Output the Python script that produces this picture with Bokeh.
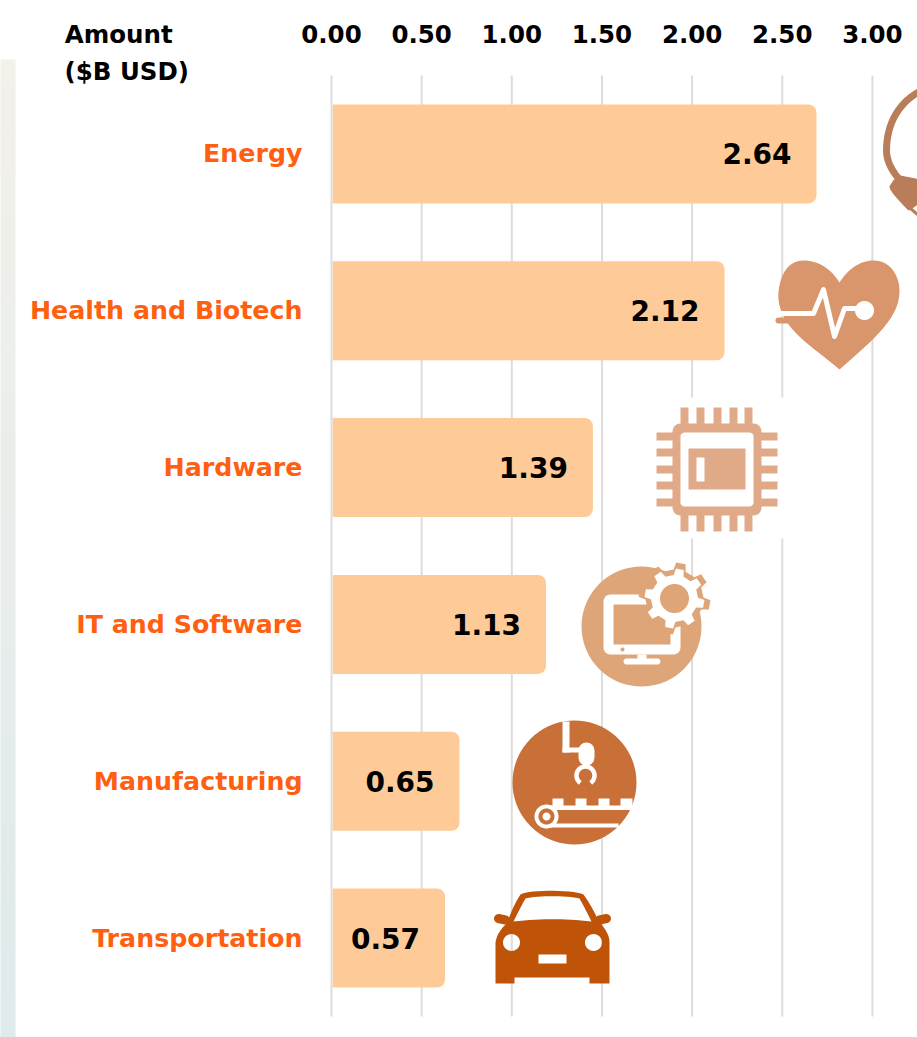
from bokeh.plotting import figure
from bokeh.embed import file_html
from bokeh.resources import INLINE
from bokeh.core.properties import value
from bokeh.models import (Range1d, FixedTicker, LinearAxis, BoxAnnotation,
                          NumeralTickFormatter, ColumnDataSource)
import numpy as np

# ---- data ----
categories = ["Energy", "Health and Biotech", "Hardware", "IT and Software", "Manufacturing", "Transportation"]
amounts = [2.64, 2.12, 1.39, 1.13, 0.65, 0.57]
bar_ends = [2.69, 2.18, 1.45, 1.19, 0.71, 0.63]   # drawn length of the rounded bars
x_ticks = [0.0, 0.5, 1.0, 1.5, 2.0, 2.5, 3.0]
header_lines = ["Amount", "($B USD)"]

# ---- style ----
W, H = 917, 1037
F_T = 59                 # frame top: the axis row sits above it, the rest of the page is the frame
ZERO, UNIT = 331, 180.3  # pixel of x=0, pixels per x unit
BAND_TOP, BAND = 75, 156.83
HEAVY = "DejaVu Sans"
ORANGE = "#ff5f11"
BAR = "#fecb98"
GRID = "#dcdcdc"

y_pos = [i + 0.5 for i in range(len(categories))]
HEADER_TICK = -1.18      # centre of the "Amount" header on the top axis row

p = figure(width=W, height=H, output_backend="svg", toolbar_location=None,
           x_range=Range1d(-ZERO / UNIT, (W - ZERO) / UNIT),
           y_range=Range1d((H - BAND_TOP) / BAND, (F_T - BAND_TOP) / BAND),
           x_axis_location=None, y_axis_location=None,
           min_border_left=0, min_border_right=0, min_border_top=F_T, min_border_bottom=0)
p.outline_line_color = None
p.border_fill_color = "white"
p.background_fill_color = "white"
p.grid.visible = False
p.extra_x_ranges["px"] = Range1d(0, W)
p.extra_y_ranges["py"] = Range1d(H, F_T)

ax_top = LinearAxis(ticker=FixedTicker(ticks=[HEADER_TICK] + x_ticks),
                    formatter=NumeralTickFormatter(format="0.00"),
                    major_label_overrides={HEADER_TICK: header_lines[0]})
ax_top.axis_line_color = None
ax_top.major_tick_line_color = None
ax_top.minor_tick_line_color = None
ax_top.major_label_text_font = HEAVY
ax_top.major_label_text_font_style = "bold"
ax_top.major_label_text_font_size = "24.5px"
ax_top.major_label_text_color = "black"
ax_top.major_label_standoff = 5
p.add_layout(ax_top, "above")

# page background strips
strip_n = 24
def mix(a, b, t):
    ca = [int(a[i:i+2], 16) for i in (1, 3, 5)]
    cb = [int(b[i:i+2], 16) for i in (1, 3, 5)]
    return "#%02x%02x%02x" % tuple(round(x + (y - x) * t) for x, y in zip(ca, cb))
for i in range(strip_n):
    y0, y1 = H * i / strip_n, H * (i + 1) / strip_n
    col = mix("#f4f1ea", "#deeaec", i / (strip_n - 1))
    p.quad(left=-5, right=15, top=max(y0, F_T), bottom=y1 + 1, fill_color=col, line_color=None,
           x_range_name="px", y_range_name="py")
    x0, x1 = W * i / strip_n, W * (i + 1) / strip_n
    p.add_layout(BoxAnnotation(left=x0, right=x1 + 1, top=0, bottom=6,
                               left_units="canvas", right_units="canvas", top_units="canvas", bottom_units="canvas",
                               fill_color=mix("#f4f1ea", "#e8efec", i / (strip_n - 1)), fill_alpha=1,
                               line_color=None, level="overlay"), "above")
p.add_layout(BoxAnnotation(left=0, right=15, top=0, bottom=F_T,
                           left_units="canvas", right_units="canvas", top_units="canvas", bottom_units="canvas",
                           fill_color="#f4f1ea", fill_alpha=1, line_color=None, level="overlay"), "above")

# grid
p.segment(x0=x_ticks, x1=x_ticks, y0=[0] * len(x_ticks), y1=[len(categories)] * len(x_ticks),
          line_color=GRID, line_width=2)

# bars and values
src = ColumnDataSource(dict(y=y_pos, end=bar_ends, amt=["%.2f" % a for a in amounts], cat=categories,
                            zero=[0] * len(categories)))
p.hbar(y="y", left=0.007, right="end", height=99 / BAND, source=src, fill_color=BAR, line_color=None,
       border_radius=(0, 8, 8, 0))
p.text(x="end", y="y", text="amt", source=src, text_align="right", text_baseline="middle",
       x_offset=-25, y_offset=0, text_font=value(HEAVY), text_font_style="bold",
       text_font_size="28px", text_color="black")
p.text(x="zero", y="y", text="cat", source=src, text_align="right", text_baseline="middle",
       x_offset=-29, text_font=value(HEAVY), text_font_style="bold",
       text_font_size="25.3px", text_color=ORANGE)

# header, second line
p.text(x=[64], y=[71], text=[header_lines[1]], x_range_name="px", y_range_name="py",
       text_align="left", text_baseline="middle", text_font=value(HEAVY), text_font_style="bold",
       text_font_size="24.5px", text_color="black")

# ---- icon helpers (decorative shapes, in reference pixel space) ----
def poly(xs, ys, color):
    p.patch(list(xs), list(ys), fill_color=color, line_color=None, x_range_name="px", y_range_name="py")

def rect(x0, y0, x1, y1, color):
    p.quad(left=x0, right=x1, top=y0, bottom=y1, fill_color=color, line_color=None,
           x_range_name="px", y_range_name="py")

def disk(cx, cy, r, color):
    t = np.linspace(0, 2 * np.pi, 73)
    poly(cx + r * np.cos(t), cy + r * np.sin(t), color)

def stroke(xs, ys, color, w, cap="round"):
    p.line(list(xs), list(ys), line_color=color, line_width=w, line_cap=cap, line_join="round",
           x_range_name="px", y_range_name="py")

def bez(segs):
    xs, ys = [], []
    t = np.linspace(0, 1, 16)[:, None]
    for a, b, c, d in segs:
        a, b, c, d = map(np.array, (a, b, c, d))
        q = (1 - t) ** 3 * a + 3 * (1 - t) ** 2 * t * b + 3 * (1 - t) * t ** 2 * c + t ** 3 * d
        xs += list(q[:, 0]); ys += list(q[:, 1])
    return xs, ys

def round_rect(x0, y0, x1, y1, r):
    t = np.linspace(0, np.pi / 2, 7)
    xs, ys = [], []
    for cx, cy, s in ((x1 - r, y0 + r, -np.pi / 2), (x1 - r, y1 - r, 0), (x0 + r, y1 - r, np.pi / 2), (x0 + r, y0 + r, np.pi)):
        xs += list(cx + r * np.cos(t + s)); ys += list(cy + r * np.sin(t + s))
    return xs, ys

# energy
c = "#b97d5a"
ax_, ay_ = bez([((919, 91), (897, 103), (886, 125), (886, 150)),
                ((886, 150), (886, 160), (891, 170), (899, 179))])
stroke(ax_, ay_, c, 7, "butt")
bx_, by_ = bez([((900, 175), (896, 176), (892, 180), (889, 186)),
                ((889, 186), (889, 190), (896, 198), (908, 210)),
                ((908, 210), (914, 207), (920, 203), (925, 195))])
poly(bx_ + [925], by_ + [180], c)
stroke([910, 917], [208, 214], c, 3, "butt")

# heart
c = "#d9956b"
hx, hy = bez([((839, 282), (848, 268), (860, 260), (873, 260)),
              ((873, 260), (889, 260), (899, 274), (899, 291)),
              ((899, 291), (899, 318), (872, 340), (839, 369)),
              ((839, 369), (812, 346), (786, 332), (779, 305)),
              ((779, 305), (777, 296), (778, 290), (779, 285)),
              ((779, 285), (782, 270), (790, 260), (803, 260)),
              ((803, 260), (818, 260), (830, 268), (839, 282))])
poly(hx, hy, c)
stroke([778, 814], [320, 320], c, 6)
stroke([780, 813, 823, 834, 844, 862], [313, 313, 289, 336, 308, 308], "white", 5)
disk(864, 310, 9.5, "white")

# hardware (white backing hides the grid behind it)
c = "#e0aa88"
rect(640, 397, 800, 538, "white")
bx, by = round_rect(672, 423, 761, 515, 8)
poly(bx, by, c)
bx, by = round_rect(680, 432, 753, 506, 4)
poly(bx, by, "white")
rect(688, 448, 745, 489, c)
rect(696, 457, 704, 481, "white")
for pin in (684, 700, 717, 733, 748):
    rect(pin - 4, 407, pin + 4, 424, c)
    rect(pin - 4, 514, pin + 4, 531, c)
for pin in (436, 452, 469, 485, 502):
    rect(656, pin - 4, 673, pin + 4, c)
    rect(760, pin - 4, 777, pin + 4, c)

# IT
c = "#dea579"
disk(641, 626, 60, c)
bx, by = round_rect(603, 594, 680, 654, 7)
poly(bx, by, "white")
rect(613, 604, 670, 644, c)
rect(637, 654, 646, 660, "white")
bx, by = round_rect(623, 658, 660, 664, 3)
poly(bx, by, "white")
disk(622, 649, 2, c)
def gear(cx, cy, r_out, r_in, n=8):
    xs, ys = [], []
    for i in range(n):
        a0 = 2 * np.pi * i / n + 0.18
        d = 2 * np.pi / n
        for f, r in ((-0.27, r_in), (-0.17, r_out), (0.17, r_out), (0.27, r_in)):
            xs.append(cx + r * np.cos(a0 + f * d)); ys.append(cy + r * np.sin(a0 + f * d))
    return xs, ys
gx, gy = gear(674, 598, 36, 29)
poly(gx, gy, c)
gx, gy = gear(674, 598, 30, 23.5)
poly(gx, gy, "white")
disk(674, 598, 14.5, c)

# manufacturing
c = "#c87037"
disk(574, 782, 62, c)
rect(562, 721, 569, 752, "white")
rect(562, 747, 580, 752, "white")
stroke([586, 586], [750, 757], "white", 16)
a = np.radians(np.linspace(125, 415, 40))
stroke(585 + 9 * np.cos(a), 775 + 9 * np.sin(a), "white", 4.5, "butt")
rect(546, 805, 632, 809.5, "white")
rect(546, 823, 618, 827, "white")
for x0, x1 in ((552, 563), (575, 586), (598, 609), (620, 632)):
    rect(x0, 798, x1, 806, "white")
disk(546, 816, 12, "white")
disk(546, 816, 8, c)
disk(546, 816, 4, "white")

# transportation
c = "#bf5408"
t = np.linspace(0, 2 * np.pi, 37)
car_x, car_y = bez([((495, 983), (495, 970), (495, 955), (495, 942)),
                    ((495, 942), (496, 935), (500, 929), (505, 924)),
                    ((505, 924), (507, 921), (508, 919), (509, 916)),
                    ((509, 916), (512, 908), (516, 900), (520, 894)),
                    ((520, 894), (528, 889), (572, 889), (583, 894)),
                    ((583, 894), (588, 901), (592, 908), (596, 916)),
                    ((596, 916), (597, 919), (599, 921), (601, 924)),
                    ((601, 924), (605, 929), (609, 935), (609, 942)),
                    ((609, 942), (609, 955), (609, 970), (609, 983))])
car_x += [589, 589, 514, 514]
car_y += [983, 977, 977, 983]
win_x, win_y = bez([((513, 921), (517, 913), (521, 905), (525, 898)),
                    ((525, 898), (535, 895), (568, 895), (579, 898)),
                    ((579, 898), (583, 905), (587, 913), (591, 921)),
                    ((591, 921), (565, 918), (540, 918), (513, 921))])
l_x = list(511 + 8.5 * np.cos(t)); l_y = list(942 + 8.5 * np.sin(t))
r_x = list(593 + 8.5 * np.cos(t)); r_y = list(942 + 8.5 * np.sin(t))
pl_x = [538, 566, 566, 538]; pl_y = [954, 954, 963, 963]
p.multi_polygons(xs=[[[car_x, win_x, l_x, r_x, pl_x]]], ys=[[[car_y, win_y, l_y, r_y, pl_y]]],
                 fill_color=c, line_color=None, x_range_name="px", y_range_name="py")
stroke([498, 505], [918, 919.5], c, 9)
stroke([599, 606], [919.5, 918], c, 9)

open("out.html", "w").write(file_html(p, INLINE))
